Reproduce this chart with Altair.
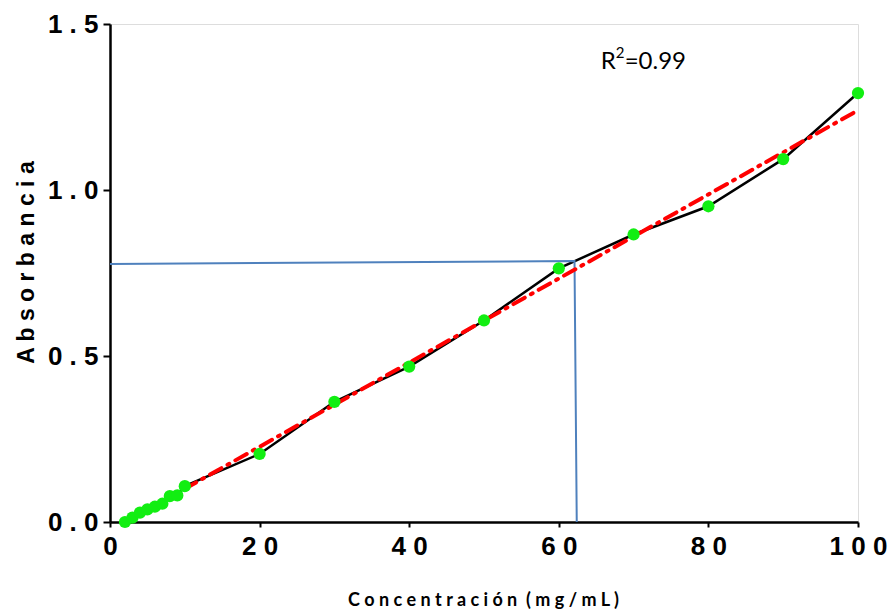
import altair as alt
import pandas as pd

# Calibration data
conc = [2, 3, 4, 5, 6, 7, 8, 9, 10, 20, 30, 40, 50, 60, 70, 80, 90, 100]
absorb = [0.0, 0.013, 0.028, 0.038, 0.046, 0.055, 0.078, 0.080, 0.108,
          0.205, 0.362, 0.468, 0.607, 0.764, 0.866, 0.951, 1.093, 1.292]

# Linear trendline
fit_x = [10, 100]
fit_y = [0.10, 1.24]

# Interpolation guide lines
guide_x = [0, 62.1, 62.4]
guide_y = [0.777, 0.786, 0.0]
guide_order = [0, 1, 2]

# Annotation
r2_parts = ["R", "2", "=0.99"]
r2_x = [65.6]
r2_y = [1.385]

x_ticks = [0, 20, 40, 60, 80, 100]
y_ticks = [0.0, 0.5, 1.0, 1.5]

df = pd.DataFrame({"x": conc, "y": absorb})
fit = pd.DataFrame({"x": fit_x, "y": fit_y})
guide = pd.DataFrame({"x": guide_x, "y": guide_y, "o": guide_order})
ann = pd.DataFrame({"x": r2_x, "y": r2_y})

FONT = "Liberation Sans"
TFONT = "Lato"

xscale = alt.Scale(domain=[0, 100], nice=False, zero=False)
yscale = alt.Scale(domain=[0, 1.5], nice=False)

xaxis = alt.Axis(
    values=x_ticks,
    title="C o n c e n t r a c i ó n\u00a0\u00a0( m g / m L )",
    titleFont=TFONT, titleFontSize=18, titleFontWeight="bold", titleColor="#000",
    titleX=373, titleY=78, titleBaseline="middle", titleAlign="center",
    labelFont=FONT, labelFontSize=26, labelFontWeight="bold", labelColor="#000",
    labelExpr="join(split(format(datum.value, 'd'), ''), ' ')",
    labelPadding=6, tickSize=5, tickWidth=2, tickColor="#000",
    domainColor="#000", domainWidth=2.5, grid=False, labelFlush=False,
    labelOverlap=False,
)
yaxis = alt.Axis(
    values=y_ticks,
    title="A b s o r b a n c i a",
    titleFont=FONT, titleFontSize=23, titleFontWeight="bold", titleColor="#000",
    titleX=-84, titleY=238, titleBaseline="middle", titleAlign="center", titleAngle=-90,
    labelFont=FONT, labelFontSize=26, labelFontWeight="bold", labelColor="#000",
    labelExpr="join(split(format(datum.value, '.1f'), ''), ' ')",
    labelPadding=5, tickSize=7, tickWidth=2, tickColor="#000",
    domainColor="#000", domainWidth=2.5, grid=False, labelFlush=False,
    labelOverlap=False,
)

base_x = alt.X("x:Q", scale=xscale, axis=xaxis)
base_y = alt.Y("y:Q", scale=yscale, axis=yaxis)
px = alt.X("x:Q", scale=xscale)
py = alt.Y("y:Q", scale=yscale)

guide_layer = alt.Chart(guide).mark_line(color="#4f81bd", strokeWidth=2).encode(
    x=px, y=py, order="o:Q"
)

line_layer = alt.Chart(df).mark_line(color="#000", strokeWidth=2.5).encode(
    x=base_x, y=base_y
)

fit_layer = alt.Chart(fit).mark_line(
    color="#ff0000", strokeWidth=4, strokeDash=[13, 7, 2, 7], strokeCap="round"
).encode(x=px, y=py)

pts = alt.Chart(df).mark_circle(color="#12ee12", opacity=1, size=150).encode(
    x=px, y=py
)

t1 = alt.Chart(ann).mark_text(
    font=TFONT, fontSize=24, align="left", baseline="middle", color="#000"
).encode(x=px, y=py, text=alt.value(r2_parts[0]))
t2 = alt.Chart(ann).mark_text(
    font=TFONT, fontSize=15, align="left", baseline="middle", color="#000",
    dx=15, dy=-9
).encode(x=px, y=py, text=alt.value(r2_parts[1]))
t3 = alt.Chart(ann).mark_text(
    font=TFONT, fontSize=24, align="left", baseline="middle", color="#000",
    dx=24
).encode(x=px, y=py, text=alt.value(r2_parts[2]))

chart = alt.layer(line_layer, guide_layer, fit_layer, pts, t1, t2, t3).properties(
    width=748, height=498,
    autosize=alt.AutoSizeParams(type="none"),
    padding={"left": 110, "top": 24, "right": 30, "bottom": 89},
).configure_view(stroke=None).configure(background="white")

chart.save("out.html", embed_options={"renderer": "svg", "actions": False})
